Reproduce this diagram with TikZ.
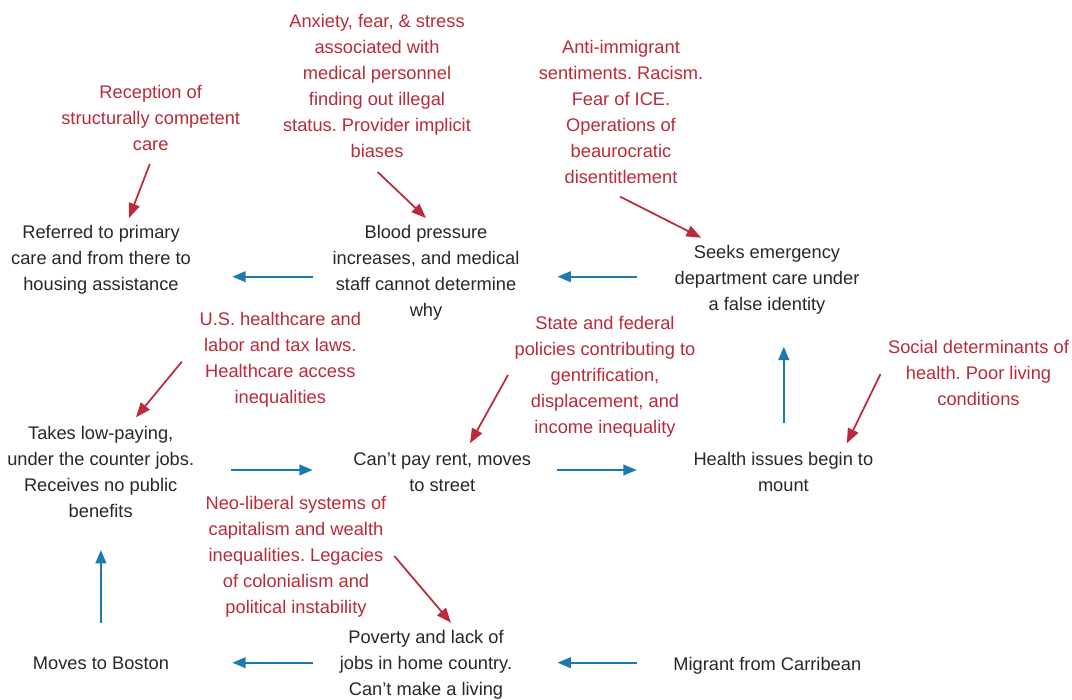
\documentclass[tikz,border=0pt]{standalone}
\usepackage{fontspec}
\setmainfont{Liberation Sans}
\usetikzlibrary{arrows.meta}
\frenchspacing
\newcommand{\apos}{{\char39}}
\definecolor{txtgray}{RGB}{40,40,40}
\definecolor{causered}{RGB}{186,42,58}
\definecolor{flowblue}{RGB}{28,122,176}
\begin{document}
\begin{tikzpicture}[x=0.75pt,y=-0.75pt,
  every node/.style={inner sep=0pt,outer sep=0pt,align=center,
    font=\fontsize{13.7pt}{19.5pt}\selectfont},
  stage/.style={text=txtgray},
  cause/.style={text=causered},
  flow/.style={draw=flowblue,line width=1.5pt,-{Triangle[length=10pt,width=8pt]}},
  pressure/.style={draw=causered,line width=1.3pt,-{Triangle[length=11pt,width=8.5pt]}}]
\useasboundingbox (0,0) rectangle (1072,700);
\fill[white] (0,0) rectangle (1072,700);

% stages of the trajectory
\node[stage] (ref)    at (101,260)   {Referred to primary\\care and from there to\\housing assistance};
\node[stage] (bp)     at (426,273)   {Blood pressure\\increases, and medical\\staff cannot determine\\why};
\node[stage] (seek)   at (767,279.3) {Seeks emergency\\department care under\\a false identity};
\node[stage] (takes)  at (100.7,472) {Takes low-paying,\\under the counter jobs.\\Receives no public\\benefits};
\node[stage] (cant)   at (442.3,472.5) {Can\apos t pay rent, moves\\to street};
\node[stage] (health) at (783.4,472.2) {Health issues begin to\\mount};
\node[stage] (boston) at (101,663.3) {Moves to Boston};
\node[stage] (pov)    at (426,665)   {Poverty and lack of\\jobs in home country.\\Can\apos t make a living};
\node[stage] (mig)    at (767.3,666) {Migrant from Carribean};

% structural forces
\node[cause] (rec)   at (150.7,118.3) {Reception of\\structurally competent\\care};
\node[cause] (anx)   at (377,85.8)    {Anxiety, fear, \& stress\\associated with\\medical personnel\\finding out illegal\\status. Provider implicit\\biases};
\node[cause] (anti)  at (621,111.7)   {Anti-immigrant\\sentiments. Racism.\\Fear of ICE.\\Operations of\\beaurocratic\\disentitlement};
\node[cause] (us)    at (280.3,360)   {U.S. healthcare and\\labor and tax laws.\\Healthcare access\\inequalities};
\node[cause] (state) at (605,376.7)   {State and federal\\policies contributing to\\gentrification,\\displacement, and\\income inequality};
\node[cause] (soc)   at (978.5,372.5) {Social determinants of\\health. Poor living\\conditions};
\node[cause] (neo)   at (296,556.7)   {Neo-liberal systems of\\capitalism and wealth\\inequalities. Legacies\\of colonialism and\\political instability};

% arrow end points
\coordinate (bpL)  at (312.7,276.7); \coordinate (refR) at (232.4,276.7);
\coordinate (seekL) at (637.4,276.7); \coordinate (bpR) at (557.5,276.7);
\coordinate (takesR) at (231.4,470); \coordinate (cantL) at (312.7,470);
\coordinate (cantR) at (556.9,470); \coordinate (healthL) at (636.7,470);
\coordinate (healthT) at (783.8,423.3); \coordinate (seekB) at (783.8,346.7);
\coordinate (povL) at (312.7,662.7); \coordinate (bostonR) at (232.4,662.7);
\coordinate (migL) at (637.4,662.7); \coordinate (povR) at (557.5,662.7);
\coordinate (bostonT) at (100.9,623.3); \coordinate (takesB) at (100.9,550);

\coordinate (recB) at (149.8,164); \coordinate (refT) at (129,218);
\coordinate (anxB) at (377.7,172); \coordinate (bpT) at (426,218);
\coordinate (antiB) at (620.2,196.7); \coordinate (seekT) at (701.1,237.7);
\coordinate (usB) at (181.8,361.7); \coordinate (takesT) at (136,417.3);
\coordinate (stateB) at (508,375); \coordinate (cantT) at (470,443.3);
\coordinate (socB) at (880.5,374); \coordinate (healthTR) at (846.8,443.3);
\coordinate (neoR) at (394.3,556); \coordinate (povT) at (451,622.7);

% sequence of events
\draw[flow] (migL) -- (povR);
\draw[flow] (povL) -- (bostonR);
\draw[flow] (bostonT) -- (takesB);
\draw[flow] (takesR) -- (cantL);
\draw[flow] (cantR) -- (healthL);
\draw[flow] (healthT) -- (seekB);
\draw[flow] (seekL) -- (bpR);
\draw[flow] (bpL) -- (refR);

% forces acting on each stage
\draw[pressure] (recB) -- (refT);
\draw[pressure] (anxB) -- (bpT);
\draw[pressure] (antiB) -- (seekT);
\draw[pressure] (usB) -- (takesT);
\draw[pressure] (stateB) -- (cantT);
\draw[pressure] (socB) -- (healthTR);
\draw[pressure] (neoR) -- (povT);
\end{tikzpicture}
\end{document}
